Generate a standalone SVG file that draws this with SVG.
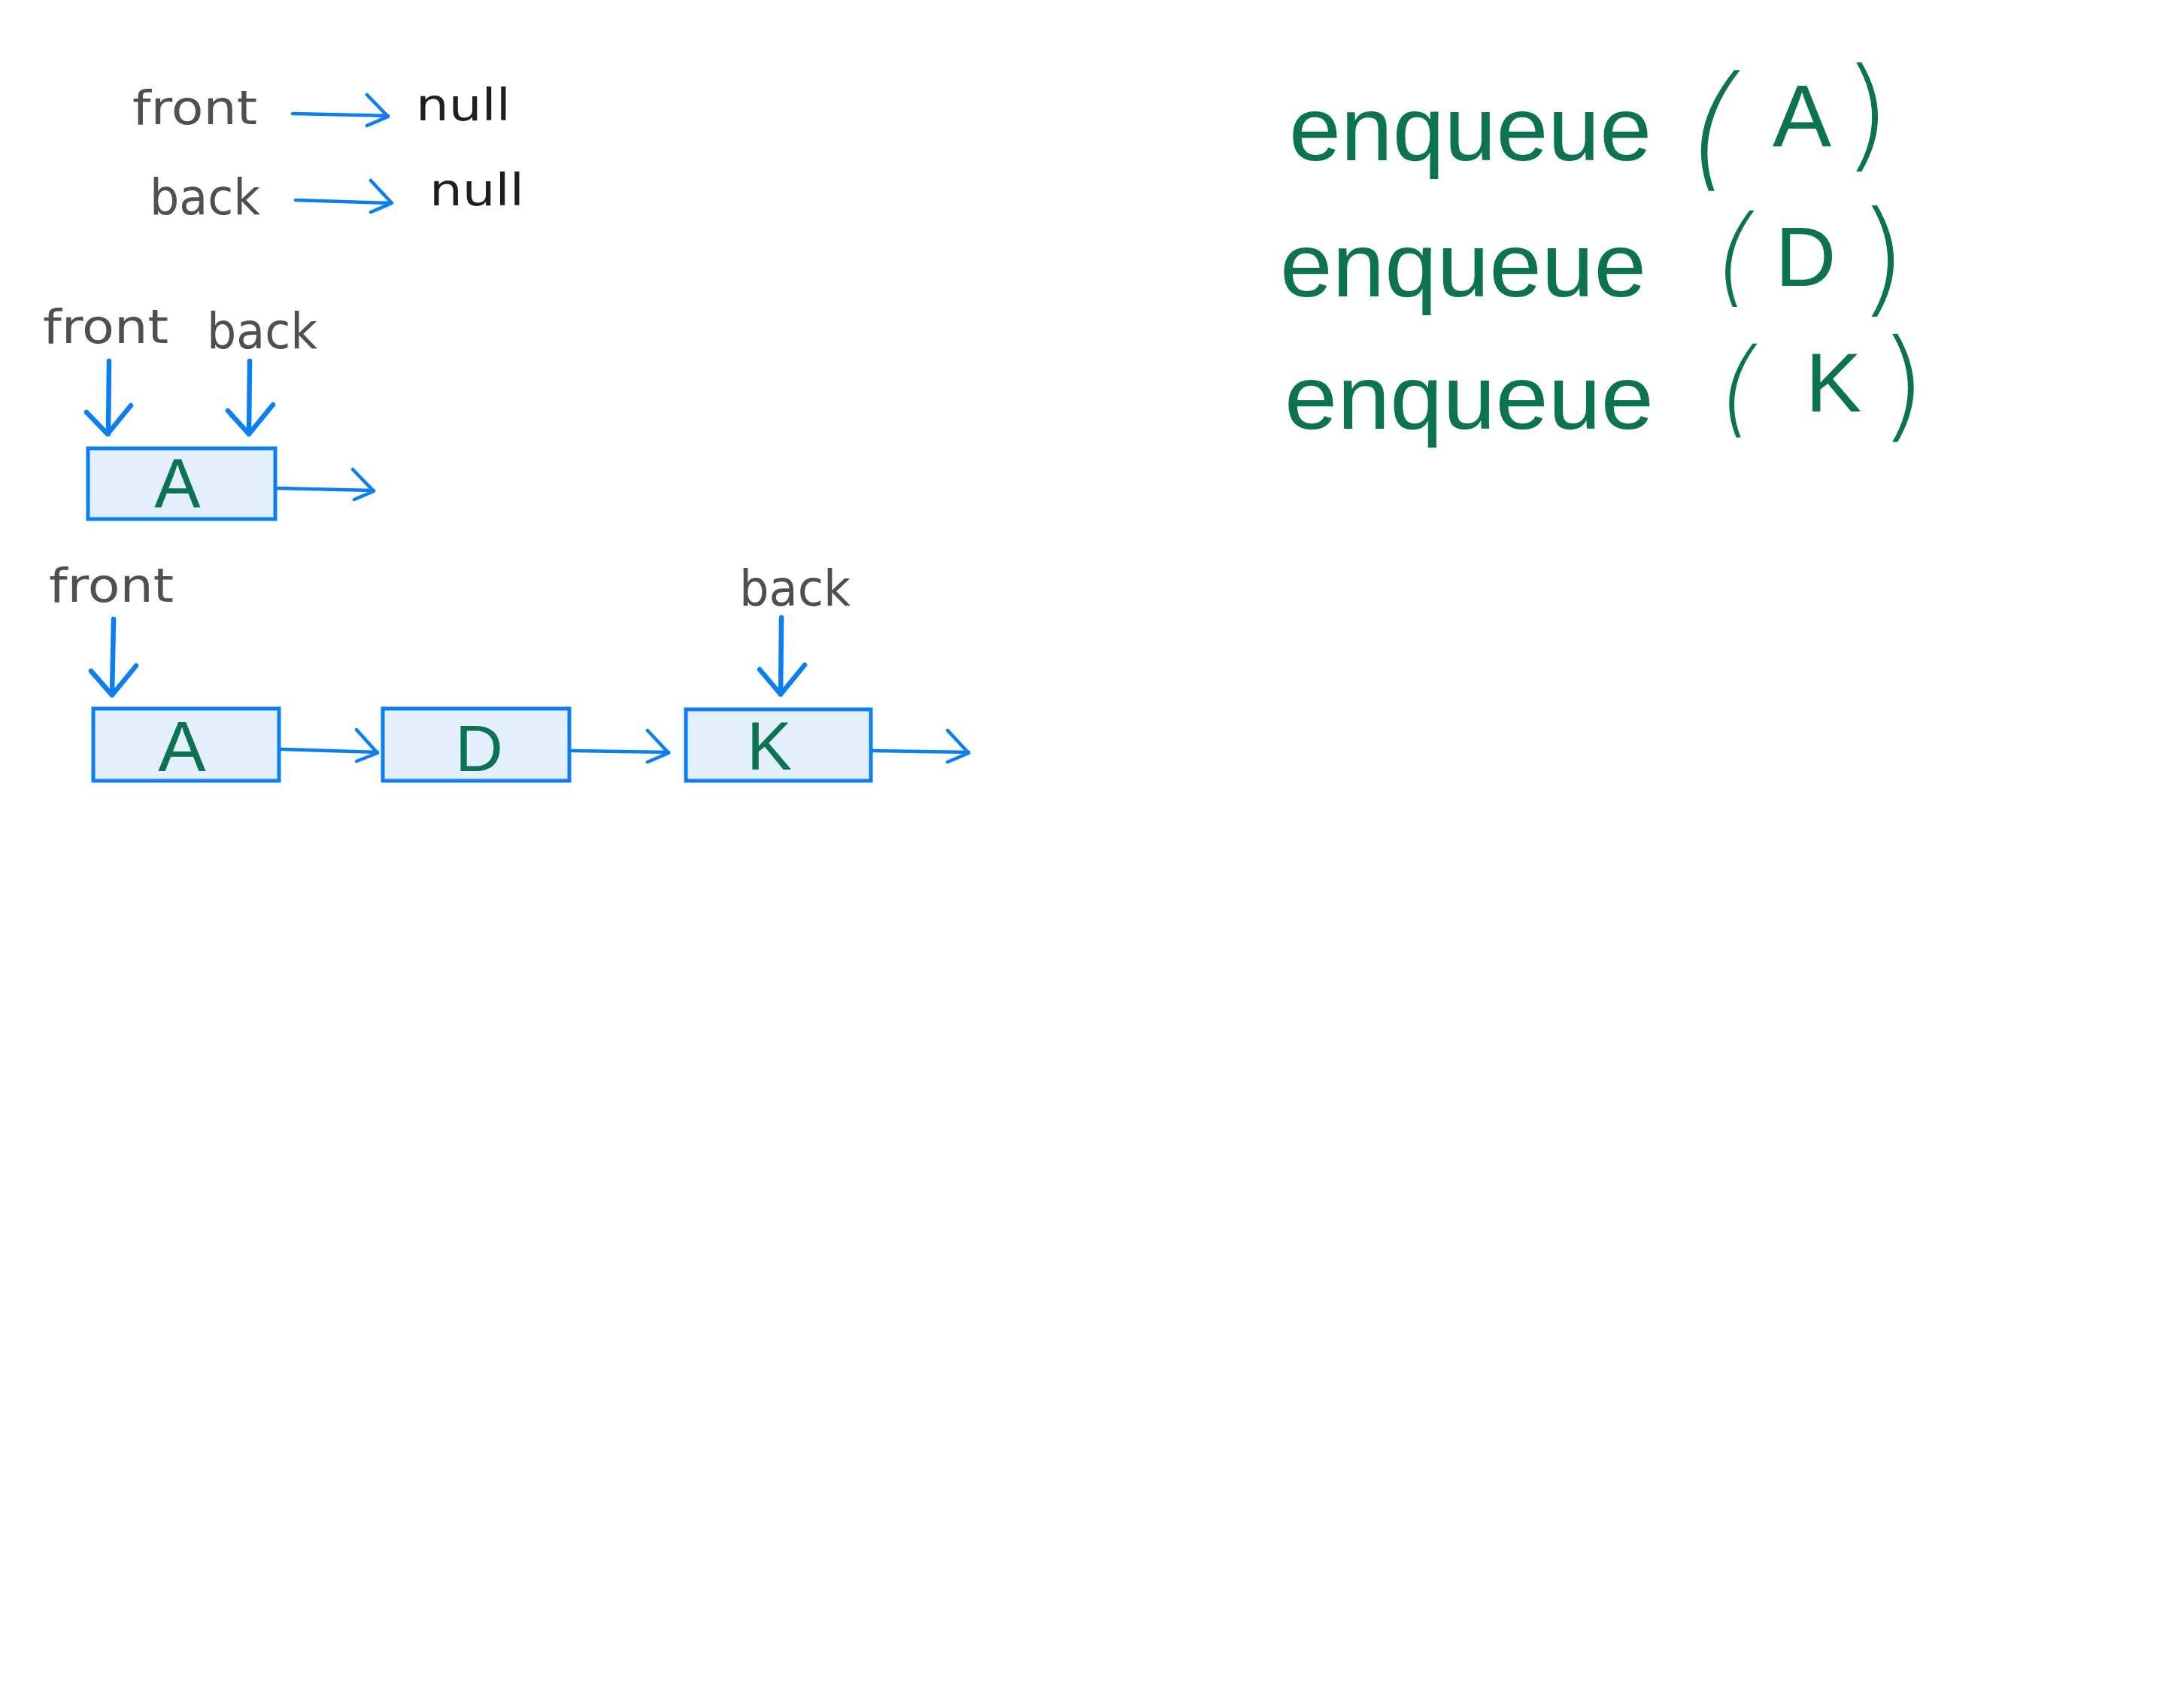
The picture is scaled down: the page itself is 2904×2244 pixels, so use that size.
<svg xmlns="http://www.w3.org/2000/svg" width="2904" height="2244" viewBox="0 0 2904 2244">
<style>
.lbl{font-family:"DejaVu Sans","Liberation Sans",sans-serif;fill:#4f4f4f;}
.nul{font-family:"DejaVu Sans","Liberation Sans",sans-serif;fill:#1e1e1e;}
.box{fill:#e3effd;stroke:#0b7ff2;stroke-width:5;}
.val{font-family:"Liberation Sans","DejaVu Sans",sans-serif;fill:#0b7252;text-anchor:middle;}
.hw{font-family:"Liberation Sans","DejaVu Sans",sans-serif;fill:#0b7252;}
.hwc{font-family:"Liberation Sans","DejaVu Sans",sans-serif;fill:#0b7252;text-anchor:middle;}
.par{font-family:"DejaVu Sans ExtraLight","DejaVu Sans","Liberation Sans",sans-serif;font-weight:200;fill:#0b7252;text-anchor:middle;}
.arr{fill:none;stroke:#0b7ff2;stroke-linecap:round;stroke-linejoin:round;}
.thin{stroke-width:4.5;}
.thick{stroke-width:6.5;}
</style>
<rect width="2904" height="2244" fill="#ffffff"/>

<g id="labels-initial">
<text class="lbl" x="176" y="165" font-size="62" textLength="166" lengthAdjust="spacingAndGlyphs">front</text>
<text class="lbl" x="199" y="285" font-size="66" textLength="147" lengthAdjust="spacingAndGlyphs">back</text>
<text class="nul" x="553" y="160" font-size="58" textLength="126" lengthAdjust="spacingAndGlyphs">null</text>
<text class="nul" x="571" y="273" font-size="58" textLength="126" lengthAdjust="spacingAndGlyphs">null</text>
</g>

<g id="labels-step1">
<text class="lbl" x="57" y="456" font-size="62" textLength="167" lengthAdjust="spacingAndGlyphs">front</text>
<text class="lbl" x="275" y="463" font-size="66" textLength="147" lengthAdjust="spacingAndGlyphs">back</text>
</g>

<g id="node-A1">
<rect class="box" x="117" y="596" width="249" height="94"/>
<text class="val" x="236" y="675" font-size="92">A</text>
</g>

<g id="labels-step3">
<text class="lbl" x="65" y="800" font-size="62" textLength="166" lengthAdjust="spacingAndGlyphs">front</text>
<text class="lbl" x="983" y="805" font-size="66" textLength="148" lengthAdjust="spacingAndGlyphs">back</text>
</g>

<g id="node-A2">
<rect class="box" x="124" y="942" width="247" height="96"/>
<text class="val" x="242" y="1025" font-size="95">A</text>
</g>
<g id="node-D">
<rect class="box" x="509" y="942" width="248" height="96"/>
<text class="val" x="637" y="1025" font-size="88">D</text>
</g>
<g id="node-K">
<rect class="box" x="912" y="943" width="246" height="95"/>
<text class="val" x="1023" y="1023" font-size="90">K</text>
</g>

<g id="connectors">
<path class="arr thin" d="M389 151 L516 154 M488 126 L516 155 L488 167"/>
<path class="arr thin" d="M393 266 L520 270 M493 240 L521 270 L493 282"/>
<path class="arr thick" d="M145 480 L144 577 M115 548 L143 577 L174 539"/>
<path class="arr thick" d="M332 480 L331 577 M303 546 L331 577 L363 538"/>
<path class="arr thin" d="M368 649 L497 652 M469 624 L497 653 L471 664"/>
<path class="arr thick" d="M151 823 L149 924 M121 892 L149 924 L181 885"/>
<path class="arr thick" d="M1039 821 L1038 923 M1010 890 L1038 923 L1070 884"/>
<path class="arr thin" d="M374 996 L502 1000 M474 970 L502 1001 L474 1012"/>
<path class="arr thin" d="M758 998 L889 1000 M861 971 L889 1001 L861 1013"/>
<path class="arr thin" d="M1160 998 L1288 1000 M1260 971 L1288 1001 L1260 1013"/>
</g>

<g id="ops">
<g id="op1">
<text class="hw" x="1714" y="213" font-size="120" textLength="482" lengthAdjust="spacingAndGlyphs">enqueue</text>
<text class="par" transform="translate(2268,230) skewX(-12)" x="0" y="0" font-size="180">(</text>
<text class="hwc" x="2396" y="195" font-size="117">A</text>
<text class="par" x="2482" y="206" font-size="162">)</text>
</g>
<g id="op2">
<text class="hw" x="1702" y="394" font-size="120" textLength="487" lengthAdjust="spacingAndGlyphs">enqueue</text>
<text class="par" transform="translate(2300,389) skewX(-10)" x="0" y="0" font-size="144">(</text>
<text class="hwc" x="2401" y="380" font-size="112">D</text>
<text class="par" x="2503" y="399" font-size="166">)</text>
</g>
<g id="op3">
<text class="hw" x="1708" y="570" font-size="120" textLength="491" lengthAdjust="spacingAndGlyphs">enqueue</text>
<text class="par" transform="translate(2305,563) skewX(-10)" x="0" y="0" font-size="140">(</text>
<text class="hwc" x="2438" y="547" font-size="112">K</text>
<text class="par" x="2530" y="566" font-size="160">)</text>
</g>
</g>
</svg>
